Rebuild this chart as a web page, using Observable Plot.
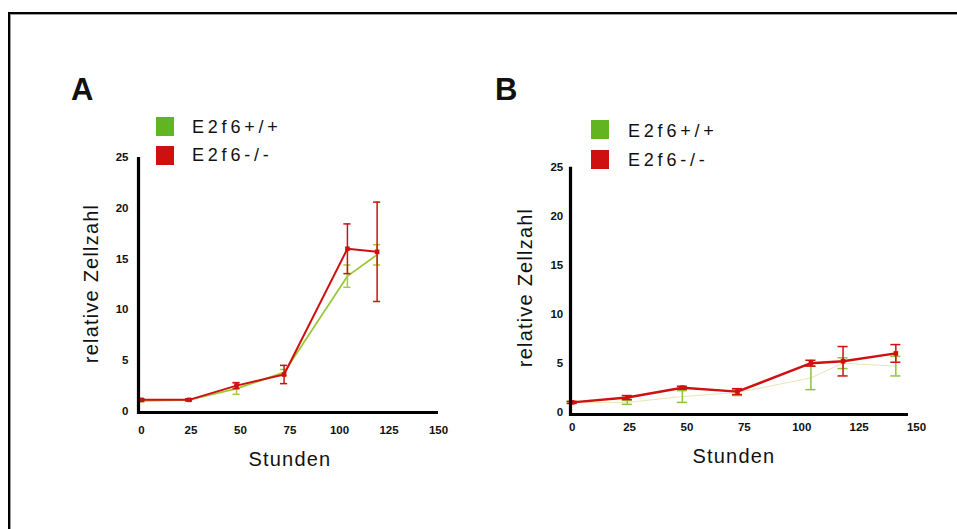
<!DOCTYPE html>
<html>
<head>
<meta charset="utf-8">
<script src="https://cdn.jsdelivr.net/npm/d3@7"></script>
<script src="https://cdn.jsdelivr.net/npm/@observablehq/plot@0.6"></script>
<style>
  html, body { margin: 0; padding: 0; background: #fff; }
  #root { position: relative; width: 957px; height: 529px; overflow: hidden; font-family: "Liberation Sans", Arial, sans-serif; }
  .frame { position: absolute; left: 8px; top: 12px; width: 960px; height: 540px; border-top: 2px solid #000; border-left: 2px solid #000; box-shadow: inset 1px 1px 0 #999; }
  .panel { position: absolute; top: 0; }
  .lbl { position: absolute; white-space: nowrap; color: #111; }
  .letter { font-weight: bold; font-size: 31px; }
  .swatch { position: absolute; width: 18px; height: 19px; }
  .leg { font-size: 18px; letter-spacing: 3.8px; }
  .ax { font-size: 20px; letter-spacing: 1.2px; }
</style>
</head>
<body>
<div id="root">
  <div class="frame"></div>
</div>
<script>
// ---- data ----
const seriesNames = ["E2f6+/+", "E2f6-/-"];
const tickLabelsY = [0, 5, 10, 15, 20, 25];
const tickLabelsX = [0, 25, 50, 75, 100, 125, 150];

const timesA = [0, 24, 48, 72, 104, 119];
const wtA    = [1.0, 1.1, 2.2, 3.8, 13.3, 15.4];
const wtErrA = [0.1, 0.1, 0.55, 0.3, 1.1, 1.0];
const koA    = [1.1, 1.1, 2.5, 3.6, 16.0, 15.7];
const koErrA = [0.1, 0.1, 0.3, 0.9, 2.45, 4.9];

const timesB = [0, 24, 48, 72, 104, 118, 141];
const wtB    = [1.0, 1.0, 1.6, 2.0, 3.5, 5.0, 4.7];
const wtErrB = [0.1, 0.2, 0.6, 0.3, 1.2, 0.55, 1.0];
const koB    = [1.0, 1.5, 2.5, 2.1, 5.0, 5.2, 6.0];
const koErrB = [0.1, 0.2, 0.15, 0.3, 0.3, 1.5, 0.9];

const RED = "#cf1010";
const GREEN_LEG = "#62b521";

function rows(times, vals, errs) {
  return times.map((t, i) => ({t, v: vals[i], lo: vals[i] - errs[i], hi: vals[i] + errs[i]}));
}

function panel(opts) {
  const {width, ml, mr, mt, mb, wt, ko, capHalf, wtLine, wtLineW, wtBar, koLineW,
         xPad, yPad, axisDx, axisDy, yAxisLo, xAxisLo, xAxisHi} = opts;
  const marks = [
    Plot.line(wt, {x: "t", y: "v", stroke: wtLine, strokeWidth: wtLineW}),
    Plot.ruleX(wt, {x: "t", y1: "lo", y2: "hi", stroke: wtBar, strokeWidth: 1.5}),
    Plot.ruleY(wt, {y: "lo", x1: d => d.t - capHalf, x2: d => d.t + capHalf, stroke: wtBar, strokeWidth: 1.5}),
    Plot.ruleY(wt, {y: "hi", x1: d => d.t - capHalf, x2: d => d.t + capHalf, stroke: wtBar, strokeWidth: 1.5}),
    Plot.line(ko, {x: "t", y: "v", stroke: RED, strokeWidth: koLineW}),
    Plot.ruleX(ko, {x: "t", y1: "lo", y2: "hi", stroke: RED, strokeWidth: 1.5}),
    Plot.ruleY(ko, {y: "lo", x1: d => d.t - capHalf, x2: d => d.t + capHalf, stroke: RED, strokeWidth: 1.5}),
    Plot.ruleY(ko, {y: "hi", x1: d => d.t - capHalf, x2: d => d.t + capHalf, stroke: RED, strokeWidth: 1.5}),
    Plot.dot(ko, {x: "t", y: "v", fill: RED, symbol: "square", r: 2.6}),
    Plot.ruleX([0], {y1: yAxisLo, y2: 25, dx: axisDx, stroke: "#000", strokeWidth: 3.2}),
    Plot.ruleY([0], {x1: xAxisLo, x2: xAxisHi, dy: axisDy, stroke: "#000", strokeWidth: 3.2}),
    Plot.axisY({ticks: tickLabelsY, tickSize: 0, tickPadding: yPad, fontSize: 11.5, fontWeight: "bold", fill: "#111", label: null}),
    Plot.axisX({ticks: tickLabelsX, tickSize: 0, tickPadding: xPad, fontSize: 11.5, fontWeight: "bold", fill: "#111", label: null})
  ];
  return Plot.plot({
    width, height: 529,
    marginLeft: ml, marginRight: mr, marginTop: mt, marginBottom: mb,
    x: {domain: [0, 150]},
    y: {domain: [0, 25]},
    style: {background: "transparent", fontFamily: "'Liberation Sans', Arial, sans-serif", overflow: "visible"},
    marks
  });
}

const root = document.getElementById("root");

const pA = panel({
  width: 480, ml: 141, mr: 42, mt: 157, mb: 118.5,
  wt: rows(timesA, wtA, wtErrA), ko: rows(timesA, koA, koErrA),
  capHalf: 1.8, wtLine: "#9cc83a", wtLineW: 1.8, wtBar: "#a6cc3a", koLineW: 2,
  xPad: 15, yPad: 13, axisDx: -3, axisDy: 1.5, yAxisLo: -0.35, xAxisLo: -1.5, xAxisHi: 150
});
pA.classList.add("panel");
pA.style.left = "0px";
root.appendChild(pA);

const pB = panel({
  width: 477, ml: 91.7, mr: 41, mt: 166.7, mb: 117.3,
  wt: rows(timesB, wtB, wtErrB), ko: rows(timesB, koB, koErrB),
  capHalf: 2.2, wtLine: "#ece3b6", wtLineW: 1, wtBar: "#8cc43a", koLineW: 2.4,
  xPad: 11, yPad: 9, axisDx: -1.7, axisDy: 2.3, yAxisLo: -0.45, xAxisLo: -0.75, xAxisHi: 146.5
});
pB.classList.add("panel");
pB.style.left = "480px";
root.appendChild(pB);

function addText(txt, cls, left, top) {
  const d = document.createElement("div");
  d.className = "lbl " + cls;
  d.textContent = txt;
  d.style.left = left + "px";
  d.style.top = top + "px";
  root.appendChild(d);
  return d;
}
function addSwatch(color, left, top) {
  const s = document.createElement("div");
  s.className = "swatch";
  s.style.background = color;
  s.style.left = left + "px";
  s.style.top = top + "px";
  root.appendChild(s);
}

addText("A", "letter", 71, 72);
addText("B", "letter", 495, 72);

addSwatch(GREEN_LEG, 156, 117);
addSwatch(RED, 156, 146);
addText(seriesNames[0], "leg", 192, 117);
addText(seriesNames[1], "leg", 192, 145);
addSwatch(GREEN_LEG, 591, 120);
addSwatch(RED, 591, 150);
addText(seriesNames[0], "leg", 628, 121);
addText(seriesNames[1], "leg", 628, 150);

function centered(txt, cx, cy, rot) {
  const d = addText(txt, "ax", 0, 0);
  const w = d.offsetWidth, h = d.offsetHeight;
  d.style.left = (cx - w / 2) + "px";
  d.style.top = (cy - h / 2) + "px";
  if (rot) d.style.transform = "rotate(-90deg)";
}
centered("Stunden", 290, 459, false);
centered("Stunden", 734, 456, false);
centered("relative Zellzahl", 91, 283, true);
centered("relative Zellzahl", 525, 287, true);
</script>
</body>
</html>
